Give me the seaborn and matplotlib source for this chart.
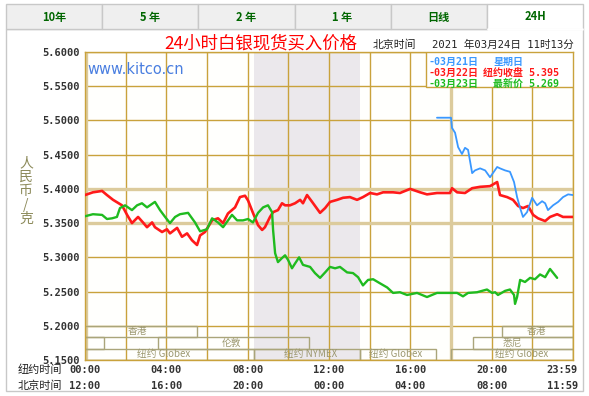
import matplotlib
matplotlib.use("Agg")
import matplotlib.pyplot as plt
from matplotlib.patches import Rectangle
import pandas as pd
import seaborn as sns

# hours (New York time, 0-24) and silver prices in CNY per gram
red_h = [0, 0.39, 0.84, 1.08, 1.38, 1.82, 2.07, 2.31, 2.61, 2.85, 3.05, 3.30, 3.44, 3.79, 4.03,
         4.18, 4.53, 4.77, 5.02, 5.26, 5.51, 5.66, 5.90, 6.25, 6.54, 6.79, 7.03, 7.38, 7.62, 7.87,
         8.02, 8.26, 8.51, 8.71, 8.85, 9.10, 9.25, 9.49, 9.69, 9.84, 10.08, 10.33, 10.58, 10.72,
         10.92, 11.17, 11.56, 11.81, 12.05, 12.40, 12.69, 13.03, 13.38, 13.67, 14.02, 14.36, 14.66,
         15.15, 15.49, 15.99, 16.48, 16.82, 17.31, 17.95, 18.05, 18.30, 18.69, 19.04, 19.43, 19.92,
         20.27, 20.41, 20.76, 21.05, 21.30, 21.54, 21.79, 22.04, 22.28, 22.63, 22.87, 23.22, 23.51, 24.0]
red_v = [5.391, 5.395, 5.397, 5.391, 5.384, 5.376, 5.362, 5.350, 5.359, 5.351, 5.344, 5.351, 5.344,
         5.337, 5.341, 5.335, 5.343, 5.330, 5.335, 5.325, 5.318, 5.332, 5.337, 5.354, 5.357, 5.350,
         5.364, 5.373, 5.388, 5.390, 5.383, 5.365, 5.347, 5.340, 5.344, 5.359, 5.366, 5.369, 5.379,
         5.376, 5.376, 5.379, 5.384, 5.379, 5.391, 5.381, 5.365, 5.372, 5.381, 5.384, 5.387, 5.388,
         5.384, 5.388, 5.394, 5.392, 5.395, 5.395, 5.394, 5.400, 5.395, 5.392, 5.394, 5.394, 5.401,
         5.395, 5.394, 5.401, 5.403, 5.404, 5.410, 5.391, 5.388, 5.384, 5.375, 5.372, 5.375, 5.362,
         5.357, 5.353, 5.359, 5.363, 5.359, 5.359]

green_h = [0, 0.39, 0.84, 1.08, 1.33, 1.57, 1.72, 1.97, 2.31, 2.56, 2.80, 3.05, 3.44, 3.69, 3.94,
           4.18, 4.43, 4.67, 5.07, 5.41, 5.66, 6.00, 6.25, 6.54, 6.79, 7.23, 7.48, 7.77, 8.02, 8.26,
           8.51, 8.76, 9.00, 9.20, 9.25, 9.35, 9.49, 9.69, 9.84, 9.99, 10.18, 10.33, 10.53, 10.72,
           11.07, 11.31, 11.56, 11.81, 12.05, 12.30, 12.54, 12.89, 13.18, 13.43, 13.67, 13.92, 14.17,
           14.51, 14.86, 15.15, 15.49, 15.84, 16.33, 16.82, 17.31, 18.30, 18.59, 18.84, 19.28, 19.77,
           20.02, 20.17, 20.31, 20.66, 20.90, 21.10, 21.15, 21.25, 21.40, 21.64, 21.89, 22.13, 22.38,
           22.63, 22.87, 23.22]
green_v = [5.360, 5.363, 5.362, 5.356, 5.357, 5.359, 5.372, 5.376, 5.369, 5.376, 5.379, 5.373, 5.381,
           5.369, 5.359, 5.350, 5.359, 5.363, 5.365, 5.351, 5.338, 5.341, 5.357, 5.351, 5.344, 5.362,
           5.354, 5.354, 5.356, 5.351, 5.365, 5.373, 5.376, 5.366, 5.340, 5.306, 5.293, 5.299, 5.303,
           5.296, 5.284, 5.291, 5.300, 5.289, 5.286, 5.277, 5.270, 5.278, 5.286, 5.284, 5.286, 5.278,
           5.277, 5.271, 5.259, 5.267, 5.268, 5.262, 5.256, 5.248, 5.249, 5.245, 5.248, 5.242, 5.248,
           5.248, 5.243, 5.248, 5.249, 5.253, 5.248, 5.249, 5.245, 5.251, 5.253, 5.245, 5.232, 5.242,
           5.267, 5.264, 5.270, 5.268, 5.275, 5.271, 5.283, 5.270]

blue_h = [17.31, 18.00, 18.05, 18.20, 18.35, 18.54, 18.69, 18.84, 19.04, 19.18, 19.43, 19.68, 19.92,
          20.27, 20.41, 20.66, 20.90, 21.10, 21.25, 21.40, 21.54, 21.74, 21.99, 22.23, 22.48, 22.63,
          22.77, 23.02, 23.27, 23.51, 23.76, 24.0]
blue_v = [5.504, 5.504, 5.489, 5.482, 5.461, 5.451, 5.460, 5.457, 5.423, 5.427, 5.430, 5.427, 5.417,
          5.432, 5.430, 5.427, 5.425, 5.410, 5.388, 5.372, 5.359, 5.366, 5.387, 5.376, 5.382, 5.379,
          5.369, 5.376, 5.381, 5.388, 5.392, 5.391]

y_ticks = [5.15, 5.20, 5.25, 5.30, 5.35, 5.40, 5.45, 5.50, 5.55, 5.60]
ny_hours = [0, 4, 8, 12, 16, 20]
ny_labels = ["00:00", "04:00", "08:00", "12:00", "16:00", "20:00"]
bj_labels = ["12:00", "16:00", "20:00", "00:00", "04:00", "08:00"]
tabs = ["10年", "5 年", "2 年", "1 年", "日线", "24H"]

# trading sessions: name, start, end, row (0 = top), label position
sessions = [
    ("香港", 0, 5.5, 0, 2.6), ("香港", 20.5, 24, 0, 22.2),
    ("", 0, 0.95, 1, None), ("伦敦", 3.6, 11.0, 1, 7.2), ("悉尼", 19.1, 24, 1, 21.0),
    ("纽约 Globex", 0, 8.33, 2, 3.85), ("纽约 NYMEX", 8.33, 13.5, 2, 11.1),
    ("纽约 Globex", 13.5, 17.25, 2, 15.3), ("纽约 Globex", 18.0, 24, 2, 21.45),
]

W, H = 589, 396
CJK = ["Noto Sans CJK SC", "DejaVu Sans"]
MONO = ["DejaVu Sans Mono", "Noto Sans CJK SC"]
GOLD = "#c9a23c"
LIGHT = "#dccb9c"

sns.set_theme(style="white")
plt.rcParams["font.family"] = CJK

fig = plt.figure(figsize=(W / 100, H / 100), dpi=100)
fig.patch.set_facecolor("white")


def fx(px):
    return px / W


def fy(py):
    return 1 - py / H


# outer frame and tabs
fig.add_artist(Rectangle((fx(6), fy(391)), fx(577), 362 / H, transform=fig.transFigure,
                         fc="white", ec="#c8c8c8", lw=1, zorder=0))
tab_w = 577 / 6
for i, t in enumerate(tabs):
    x0 = 6 + i * tab_w
    sel = i == len(tabs) - 1
    fig.add_artist(Rectangle((fx(x0), fy(29)), tab_w / W, 25 / H, transform=fig.transFigure,
                             fc="white" if sel else "#efefef", ec="#c8c8c8", lw=1, zorder=1))
    if sel:
        fig.add_artist(plt.Line2D([fx(x0 + 1), fx(x0 + tab_w - 1)], [fy(29), fy(29)],
                                  transform=fig.transFigure, color="white", lw=2, zorder=2))
    fig.text(fx(x0 + tab_w / 2), fy(17), t, ha="center", va="center", fontsize=8,
             fontweight="bold", color="#006600", family=CJK)

ax = fig.add_axes([fx(85), 36 / H, 488 / W, 308 / H])
ax.set_facecolor("#fffffd")
ax.axvspan(8.33, 13.5, color="#ebe8ec", lw=0, zorder=0)

ax.set_xlim(0, 24)
ax.set_ylim(5.15, 5.60)
ax.set_xticks(range(0, 25, 2))
ax.set_yticks(y_ticks)
ax.grid(True, color=GOLD, lw=1, zorder=1)
for v in [5.40, 5.35]:
    ax.axhline(v, color=LIGHT, lw=2.4, zorder=1.1)
for h in [0.05, 18]:
    ax.axvline(h, color=LIGHT, lw=2.4, zorder=1.1)
for s in ax.spines.values():
    s.set_color(GOLD)
    s.set_linewidth(1)
ax.set_axisbelow(True)
ax.tick_params(axis="x", length=0, labelbottom=False)
ax.tick_params(axis="y", length=0, pad=4)
ax.set_yticklabels([f"{v:.4f}" for v in y_ticks], family="DejaVu Sans Mono",
                   fontweight="bold", fontsize=7.5, color="#333333")

# session boxes
row_h = 0.05 / 3
for name, a, b, row, lab in sessions:
    top = 5.20 - row * row_h
    ax.add_patch(Rectangle((a, top - row_h), b - a, row_h, fill=False, ec="#aaa57a",
                           lw=1, zorder=2))
    if lab is not None:
        ax.text(lab, top - row_h / 2, name, ha="center", va="center", fontsize=7,
                color="#9c9870", family=CJK, zorder=3)

df = pd.concat([
    pd.DataFrame({"h": red_h, "v": red_v, "s": "red"}),
    pd.DataFrame({"h": green_h, "v": green_v, "s": "green"}),
    pd.DataFrame({"h": blue_h, "v": blue_v, "s": "blue"}),
])
styles = {"red": ("#ff1a1a", 1.9), "green": ("#1fbb1f", 1.7), "blue": ("#3a98ff", 1.3)}
for key, (col, lw) in styles.items():
    sub = df[df["s"] == key]
    sns.lineplot(data=sub, x="h", y="v", ax=ax, color=col, linewidth=lw,
                 estimator=None, sort=False, zorder=4)
ax.set_xlabel("")
ax.set_ylabel("")

# legend box
ax.add_patch(Rectangle((16.77, 5.549), 7.23, 0.051, fc="white", ec=GOLD, lw=1, zorder=5))
leg = [("-03月21日", "星期日", "#3a98ff", 62, 494),
       ("-03月22日", "纽约收盘 5.395", "#ff1a1a", 73, 483),
       ("-03月23日", "最新价 5.269", "#1fbb1f", 84, 493)]
for a, b, col, py, bx in leg:
    fig.text(fx(428), fy(py), a, ha="left", va="center", fontsize=7.2, color=col,
             family=MONO, fontweight="bold", zorder=6)
    fig.text(fx(bx), fy(py), b, ha="left", va="center", fontsize=7.2, color=col,
             family=MONO, fontweight="bold", zorder=6)

# titles and watermark
fig.text(fx(261), fy(44), "24小时白银现货买入价格", ha="center", va="center", fontsize=12.5,
         color="#ff0000", family=CJK)
fig.text(fx(373), fy(45), "北京时间", ha="left", va="center", fontsize=7.8, color="#222222",
         family=CJK)
fig.text(fx(432), fy(45), "2021 年03月24日 11时13分", ha="left", va="center", fontsize=7.6,
         color="#222222", family=MONO)
fig.text(fx(87), fy(70), "www.kitco.cn", ha="left", va="center", fontsize=10.5,
         color="#4a7fe0", family="DejaVu Sans")

# vertical unit label
for i, ch in enumerate("人民币/克"):
    fig.text(fx(26), fy(163 + i * 14), ch, ha="center", va="center", fontsize=10,
             color="#8c8a5a", family=CJK)

# time rows below the plot
xt = ax.get_xaxis_transform()
fig.text(fx(18), fy(370), "纽约时间", ha="left", va="center", fontsize=8, color="#222222",
         family=CJK)
fig.text(fx(18), fy(386), "北京时间", ha="left", va="center", fontsize=8, color="#222222",
         family=CJK)
for h, a, b in zip(ny_hours, ny_labels, bj_labels):
    ax.text(h, -10 / 308, a, transform=xt, ha="center", va="center", fontsize=7.5,
            family="DejaVu Sans Mono", fontweight="bold", color="#333333")
    ax.text(h, -26 / 308, b, transform=xt, ha="center", va="center", fontsize=7.5,
            family="DejaVu Sans Mono", fontweight="bold", color="#333333")
ax.text(24.25, -10 / 308, "23:59", transform=xt, ha="right", va="center", fontsize=7.5,
        family="DejaVu Sans Mono", fontweight="bold", color="#333333")
ax.text(24.25, -26 / 308, "11:59", transform=xt, ha="right", va="center", fontsize=7.5,
        family="DejaVu Sans Mono", fontweight="bold", color="#333333")

fig.savefig("out.png", dpi=100)
